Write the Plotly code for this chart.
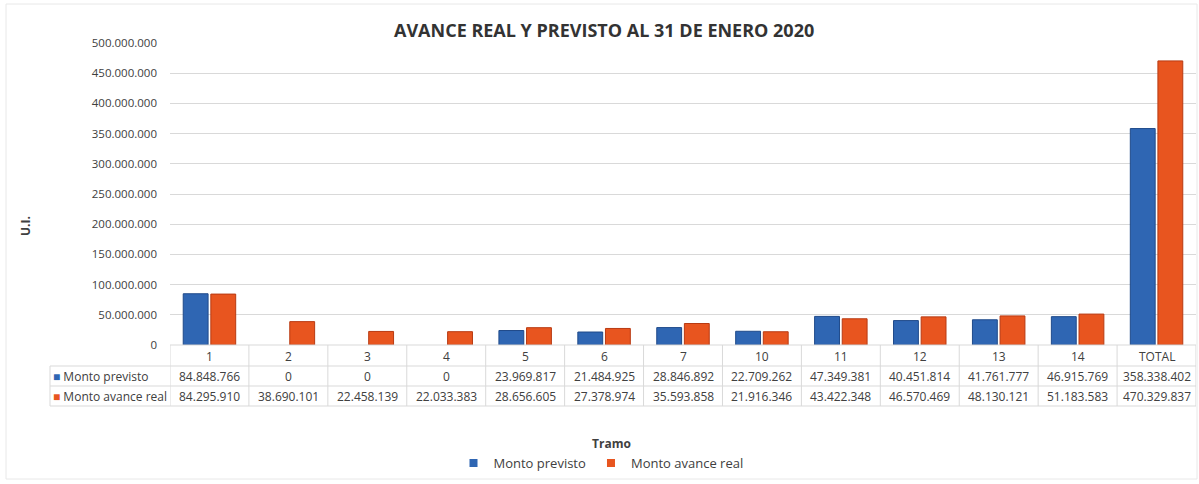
import plotly.graph_objects as go

categories = ["1", "2", "3", "4", "5", "6", "7", "10", "11", "12", "13", "14", "TOTAL"]
monto_previsto = [84848766, 0, 0, 0, 23969817, 21484925, 28846892, 22709262,
                  47349381, 40451814, 41761777, 46915769, 358338402]
monto_real = [84295910, 38690101, 22458139, 22033383, 28656605, 27378974, 35593858,
              21916346, 43422348, 46570469, 48130121, 51183583, 470329837]
series_names = ["Monto previsto", "Monto avance real"]
title_text = "AVANCE REAL Y PREVISTO AL 31 DE ENERO 2020"
y_title = "U.I."
x_title = "Tramo"

BLUE = "#2F66B3"
ORANGE = "#E8551F"
BLUE_EDGE = "#1F4A8A"
ORANGE_EDGE = "#B83A12"
GRID = "#D9D9D9"
TXT = "#404040"
FONT = "Open Sans"

W, H = 1199, 484
L, R, T, B = 170, 3, 43, 139
pw = W - L - R
ph = H - T - B


def py(pix):
    return (H - B - pix) / ph


def px(pix):
    return (pix - L) / pw


def fmt(v):
    return f"{v:,}".replace(",", ".")


def ann(x, y, text, size=12, xref="paper", xanchor="center", **kw):
    d = dict(x=x, y=y, xref=xref, yref="paper", text=text, showarrow=False,
             xanchor=xanchor, yanchor="middle",
             font=dict(size=size, color=kw.pop("color", TXT), family=FONT))
    d.update(kw)
    return d


fig = go.Figure()
fig.add_trace(go.Bar(x=categories, y=monto_previsto, name=series_names[0], showlegend=False,
                     marker=dict(color=BLUE, line=dict(color=BLUE_EDGE,
                                 width=[0 if v == 0 else 1 for v in monto_previsto]))))
fig.add_trace(go.Bar(x=categories, y=monto_real, name=series_names[1], showlegend=False,
                     marker=dict(color=ORANGE, line=dict(color=ORANGE_EDGE,
                                 width=[0 if v == 0 else 1 for v in monto_real]))))
# legend entries with small square keys
for nm, col in zip(series_names, [BLUE, ORANGE]):
    fig.add_trace(go.Scatter(x=[None], y=[None], mode="markers", name=nm,
                             marker=dict(symbol="square", size=8, color=col)))

annotations = []
shapes = []
n = len(categories)
row_head, row1, row2 = py(356), py(376), py(396)
for i, c in enumerate(categories):
    annotations.append(ann(i, row_head, c, xref="x"))
    annotations.append(ann(i, row1, fmt(monto_previsto[i]), xref="x"))
    annotations.append(ann(i, row2, fmt(monto_real[i]), xref="x"))

annotations.append(ann(px(51), row1, f"<span style='color:{BLUE}'>■</span> {series_names[0]}",
                       xanchor="left"))
annotations.append(ann(px(51), row2, f"<span style='color:{ORANGE}'>■</span> {series_names[1]}",
                       xanchor="left"))

# table grid
for yy in [345, 366, 386, 406]:
    x0 = px(170) if yy == 345 else px(50)
    shapes.append(dict(type="line", xref="paper", yref="paper", x0=x0, x1=1, y0=py(yy), y1=py(yy),
                       line=dict(color=GRID, width=1)))
for i in range(n + 1):
    shapes.append(dict(type="line", xref="x", yref="paper", x0=i - 0.5, x1=i - 0.5,
                       y0=py(345), y1=py(406), line=dict(color=GRID, width=1)))
shapes.append(dict(type="line", xref="paper", yref="paper", x0=px(50), x1=px(50),
                   y0=py(366), y1=py(406), line=dict(color=GRID, width=1)))

# chart border (faint)
shapes.append(dict(type="rect", xref="paper", yref="paper", x0=px(6), x1=px(1197), y0=py(479), y1=py(4),
                   line=dict(color="#E8E8E8", width=1)))

annotations.append(ann(px(611), py(443), f"<b>{x_title}</b>", size=12))
annotations.append(ann(px(25), py(226), f"<b>{y_title}</b>", size=12, textangle=-90))
annotations.append(ann(px(604), py(30), f"<b>{title_text}</b>", size=18, color="#333333"))

fig.update_layout(
    width=W, height=H,
    margin=dict(l=L, r=R, t=T, b=B, autoexpand=False),
    paper_bgcolor="white", plot_bgcolor="white",
    separators=",.",
    barmode="group", bargap=0.3, bargroupgap=0.1,
    font=dict(family=FONT, color=TXT, size=11),
    showlegend=True,
    legend=dict(orientation="h", x=px(601), xanchor="center", y=py(463), yanchor="middle",
                font=dict(size=13, color=TXT, family=FONT), itemwidth=30, traceorder="normal",
                bgcolor="rgba(0,0,0,0)"),
    annotations=annotations,
    shapes=shapes,
    xaxis=dict(showticklabels=False, showgrid=False, zeroline=False, showline=False, ticks="",
               range=[-0.5, n - 0.5]),
    yaxis=dict(range=[0, 500000000], dtick=50000000, tickformat=",d", gridcolor=GRID,
               zeroline=False, showline=False, ticks="", ticklabelstandoff=12,
               tickfont=dict(size=11.5, color=TXT, family=FONT)),
)

fig.write_html("out.html", config={"displayModeBar": False},
               post_script="document.body.style.margin='0';")
